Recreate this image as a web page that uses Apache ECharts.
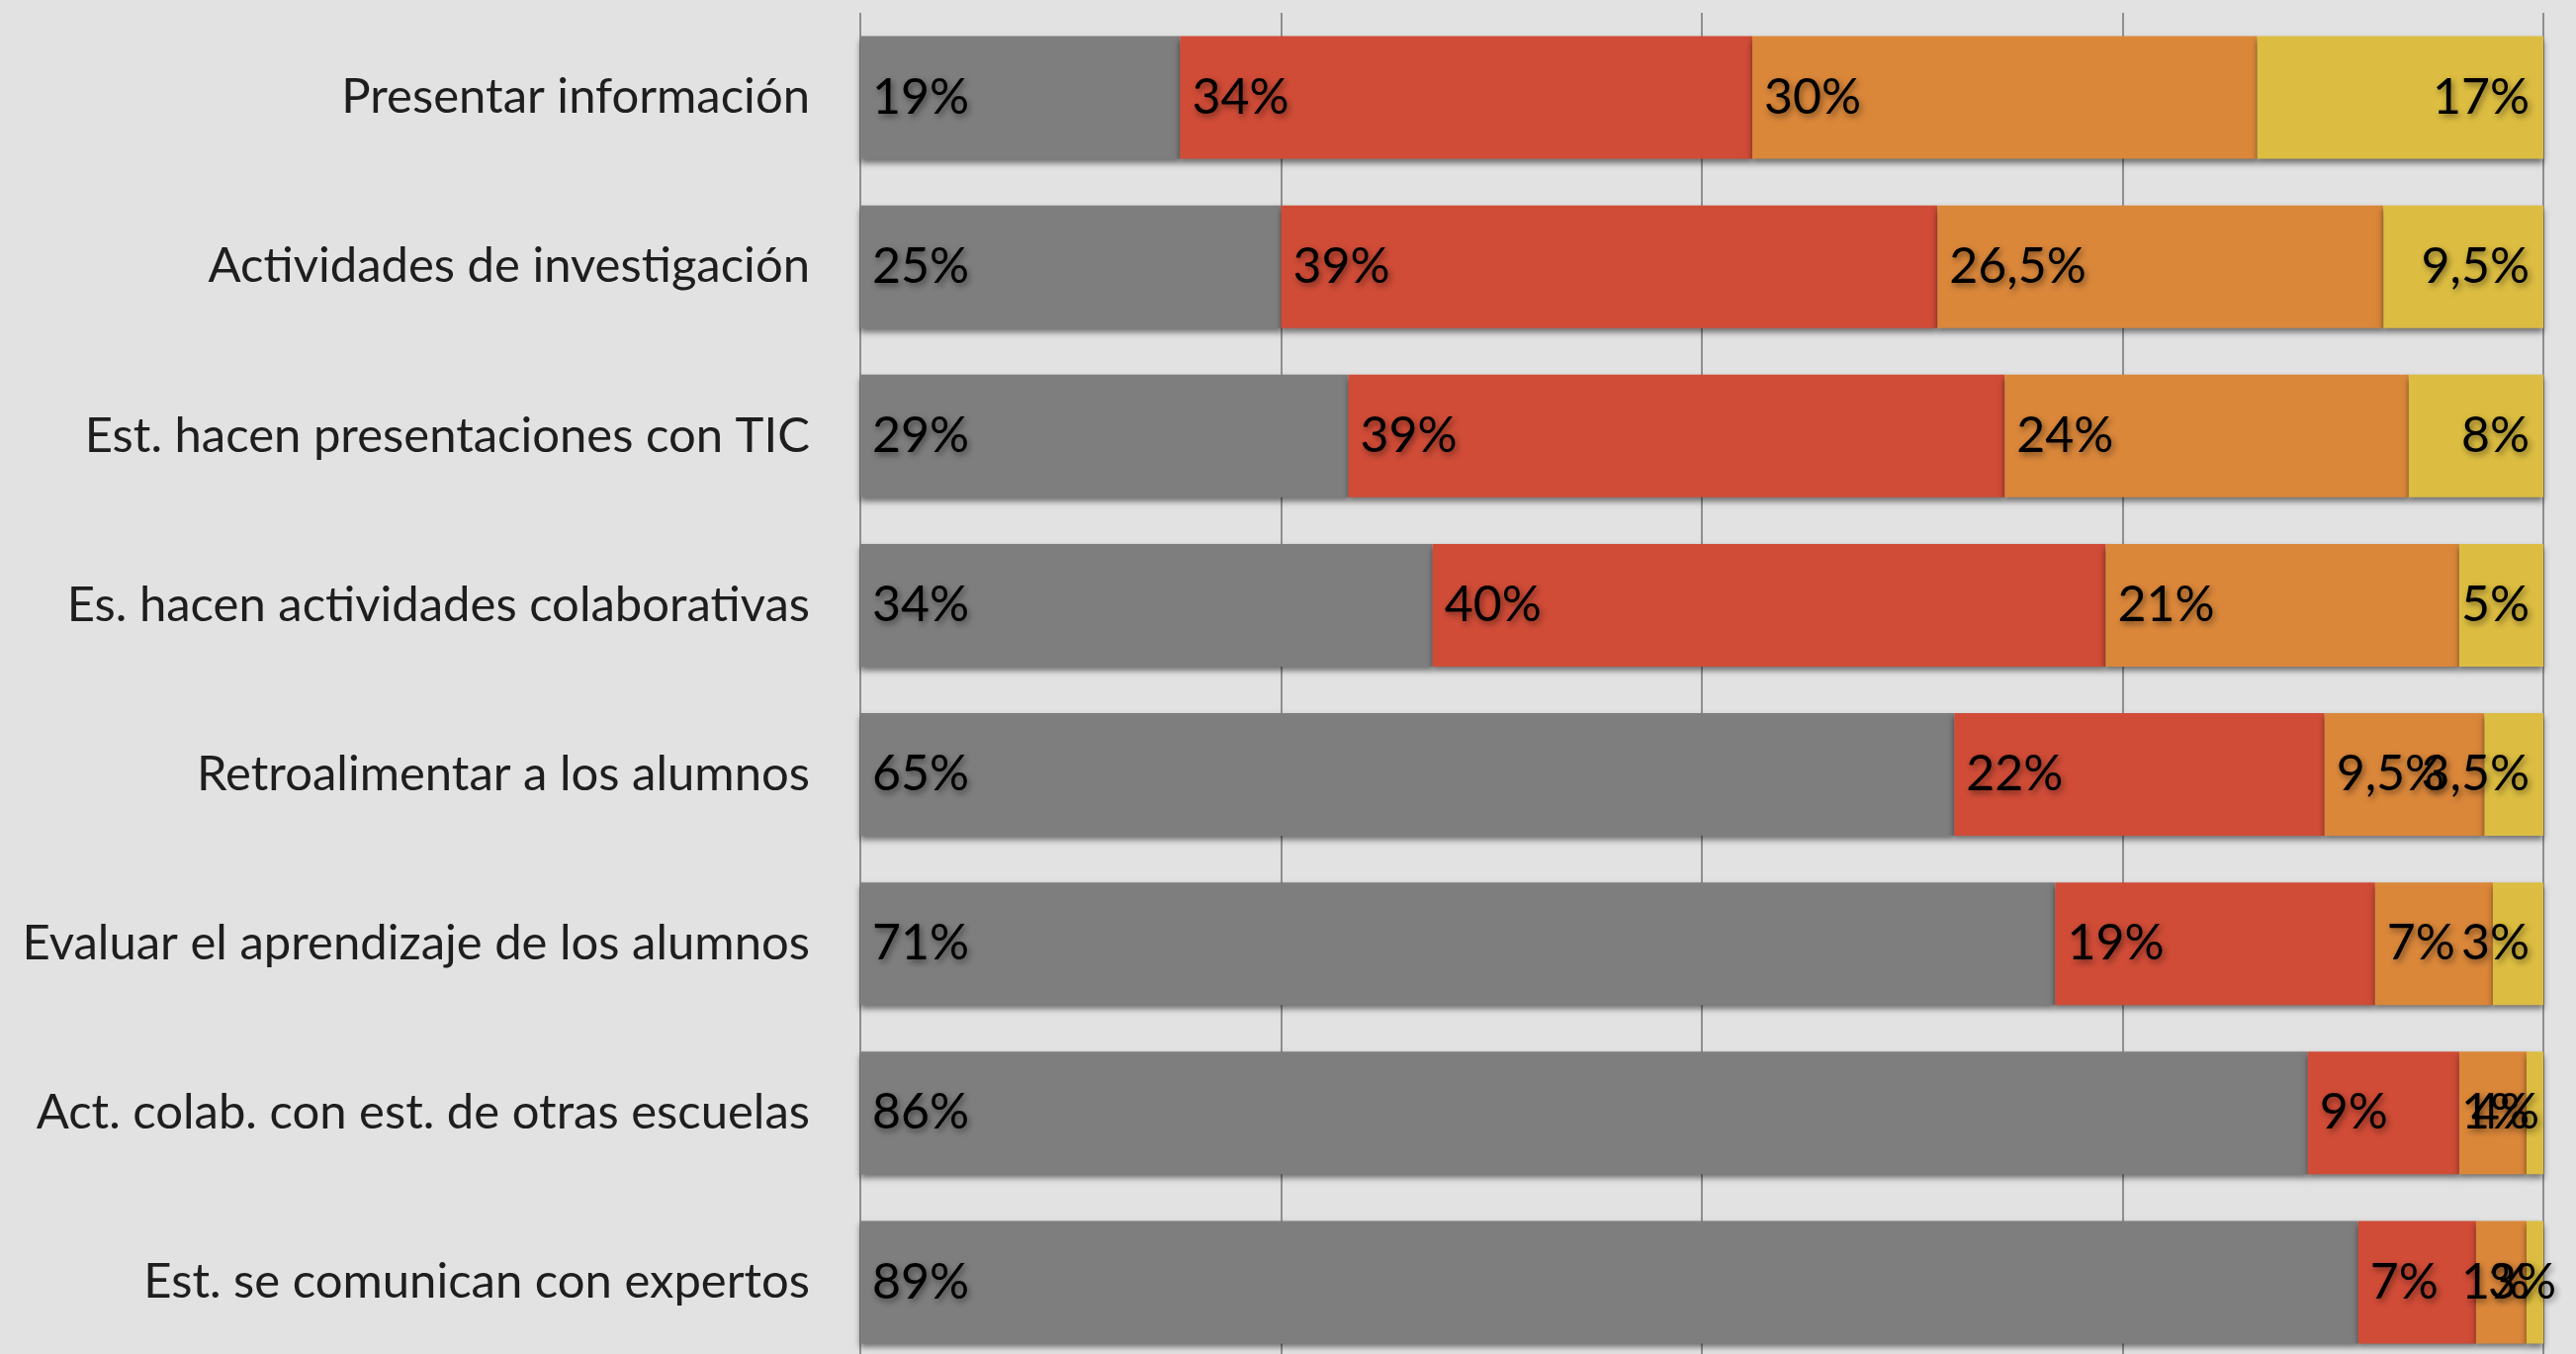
<!DOCTYPE html>
<html>
<head>
<meta charset="utf-8">
<script src="https://cdn.jsdelivr.net/npm/echarts@6/dist/echarts.min.js"></script>
<style>
html,body{margin:0;padding:0;background:#e2e2e2;}
#c{width:2605px;height:1369px;}
</style>
</head>
<body>
<div id="c"></div>
<script>
const categories = [
  "Presentar información",
  "Actividades de investigación",
  "Est. hacen presentaciones con TIC",
  "Es. hacen actividades colaborativas",
  "Retroalimentar a los alumnos",
  "Evaluar el aprendizaje de los alumnos",
  "Act. colab. con est. de otras escuelas",
  "Est. se comunican con expertos"
];
const grayValues   = [19, 25, 29, 34, 65, 71, 86, 89];
const redValues    = [34, 39, 39, 40, 22, 19, 9, 7];
const orangeValues = [30, 26.5, 24, 21, 9.5, 7, 4, 3];
const yellowValues = [17, 9.5, 8, 5, 3.5, 3, 1, 1];
const xTicks = [0, 25, 50, 75, 100];

const FONT = "Lato, 'Noto Sans', sans-serif";
const fmt = p => String(p.value).replace('.', ',') + '%';
const labelStyle = (pos, dist) => ({
  show: true,
  position: pos,
  distance: dist,
  formatter: fmt,
  fontFamily: FONT,
  fontSize: 50,
  color: '#000',
  textShadowColor: 'rgba(0,0,0,0.45)',
  textShadowBlur: 6,
  textShadowOffsetX: 2,
  textShadowOffsetY: 3
});
const mk = (name, data, color, pos, dist) => ({
  name, type: 'bar', stack: 'total', data,
  barWidth: 124,
  itemStyle: {
    color,
    shadowColor: 'rgba(0,0,0,0.5)',
    shadowBlur: 6,
    shadowOffsetY: 4
  },
  label: labelStyle(pos, dist),
  emphasis: {disabled: true}
});

const chart = echarts.init(document.getElementById('c'));
chart.setOption({
  backgroundColor: '#e2e2e2',
  animation: false,
  grid: {left: 870, right: 33, top: 13, height: 1369, outerBoundsMode: 'none'},
  xAxis: {
    type: 'value', min: xTicks[0], max: xTicks[xTicks.length - 1], interval: 25,
    axisLabel: {show: false}, axisTick: {show: false}, axisLine: {show: false},
    splitLine: {show: true, lineStyle: {color: '#8e8e94', width: 2}}
  },
  yAxis: {
    type: 'category', data: categories, inverse: true,
    axisLine: {show: false}, axisTick: {show: false},
    axisLabel: {margin: 51, fontFamily: FONT, fontSize: 49, color: '#1e1e1e'}
  },
  series: [
    mk('Serie 1', grayValues, '#7e7e7e', 'insideLeft', 12),
    mk('Serie 2', redValues, '#d04c37', 'insideLeft', 12),
    mk('Serie 3', orangeValues, '#da873a', 'insideLeft', 12),
    mk('Serie 4', yellowValues, '#dcbd41', 'insideRight', 14)
  ]
});
</script>
</body>
</html>
